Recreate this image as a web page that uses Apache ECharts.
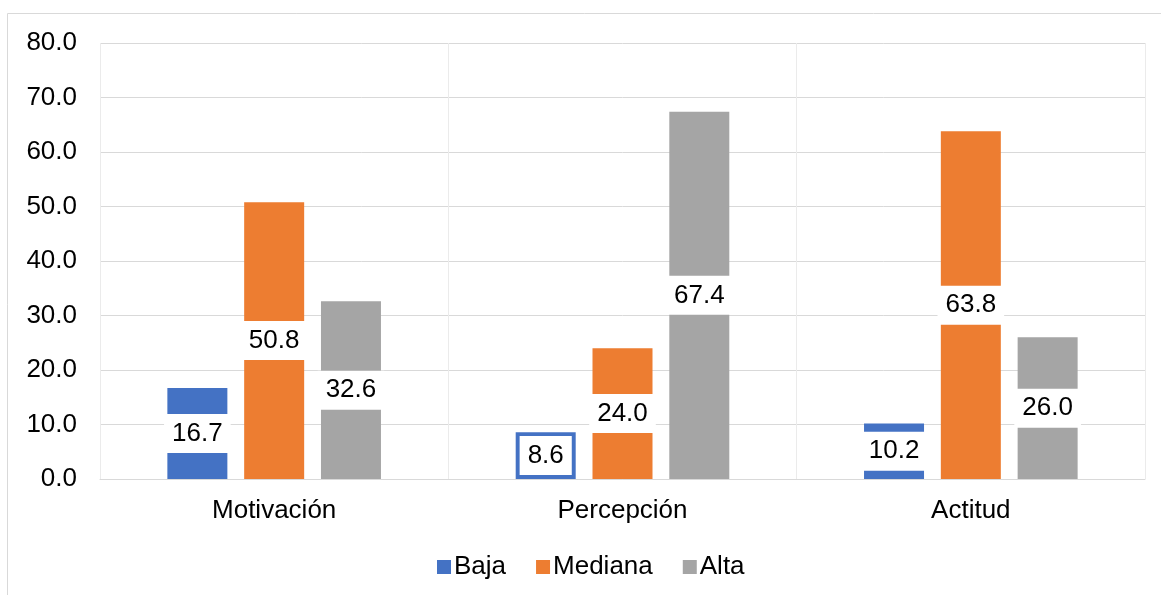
<!DOCTYPE html>
<html>
<head>
<meta charset="utf-8">
<script src="https://cdn.jsdelivr.net/npm/echarts@6/dist/echarts.min.js"></script>
<style>
  html, body { margin: 0; padding: 0; background: #fff; }
  #chart { width: 1161px; height: 595px; }
</style>
</head>
<body>
<div id="chart"></div>
<script>
const categories = ["Motivación", "Percepción", "Actitud"];
const baja = [16.7, 8.6, 10.2];
const mediana = [50.8, 24.0, 63.8];
const alta = [32.6, 67.4, 26.0];

const chart = echarts.init(document.getElementById("chart"));

const font = "Liberation Sans, Arial, sans-serif";

function makeSeries(name, data, color) {
  return {
    name: name,
    type: "bar",
    data: data,
    barWidth: 60,
    barGap: "28%",
    itemStyle: { color: color },
    label: {
      show: true,
      position: "inside",
      formatter: (p) => p.value.toFixed(1),
      color: "#000",
      fontSize: 26,
      fontFamily: font,
      backgroundColor: "#fff",
      padding: [7, 8, 6, 8],
    },
  };
}

chart.setOption({
  animation: false,
  graphic: [
    {
      type: "rect",
      shape: { x: 7.5, y: 13.5, width: 1160, height: 600 },
      style: { fill: "none", stroke: "#d9d9d9", lineWidth: 1 },
      z: -1,
    },
  ],
  grid: { left: 100, right: 16, top: 43, bottom: 116 },
  legend: {
    left: 432,
    top: 549,
    itemWidth: 14,
    itemHeight: 14,
    itemGap: 30,
    icon: "rect",
    textStyle: { fontSize: 26, fontFamily: font, color: "#000", padding: [0, 0, 0, -2] },
    data: ["Baja", "Mediana", "Alta"],
  },
  xAxis: {
    type: "category",
    data: categories,
    axisLine: { lineStyle: { color: "#d9d9d9" } },
    axisTick: { show: false },
    axisLabel: { fontSize: 26, fontFamily: font, color: "#000", margin: 19 },
    splitLine: { show: true, interval: 0, lineStyle: { color: "#ebebeb" } },
  },
  yAxis: {
    type: "value",
    min: 0,
    max: 80,
    interval: 10,
    axisLine: { show: false },
    axisTick: { show: false },
    axisLabel: {
      fontSize: 26,
      fontFamily: font,
      color: "#000",
      margin: 23,
      formatter: (v) => v.toFixed(1),
    },
    splitLine: { lineStyle: { color: "#d9d9d9" } },
  },
  series: [
    makeSeries("Baja", baja, "#4472C4"),
    makeSeries("Mediana", mediana, "#ED7D31"),
    makeSeries("Alta", alta, "#A5A5A5"),
  ],
});
</script>
</body>
</html>
